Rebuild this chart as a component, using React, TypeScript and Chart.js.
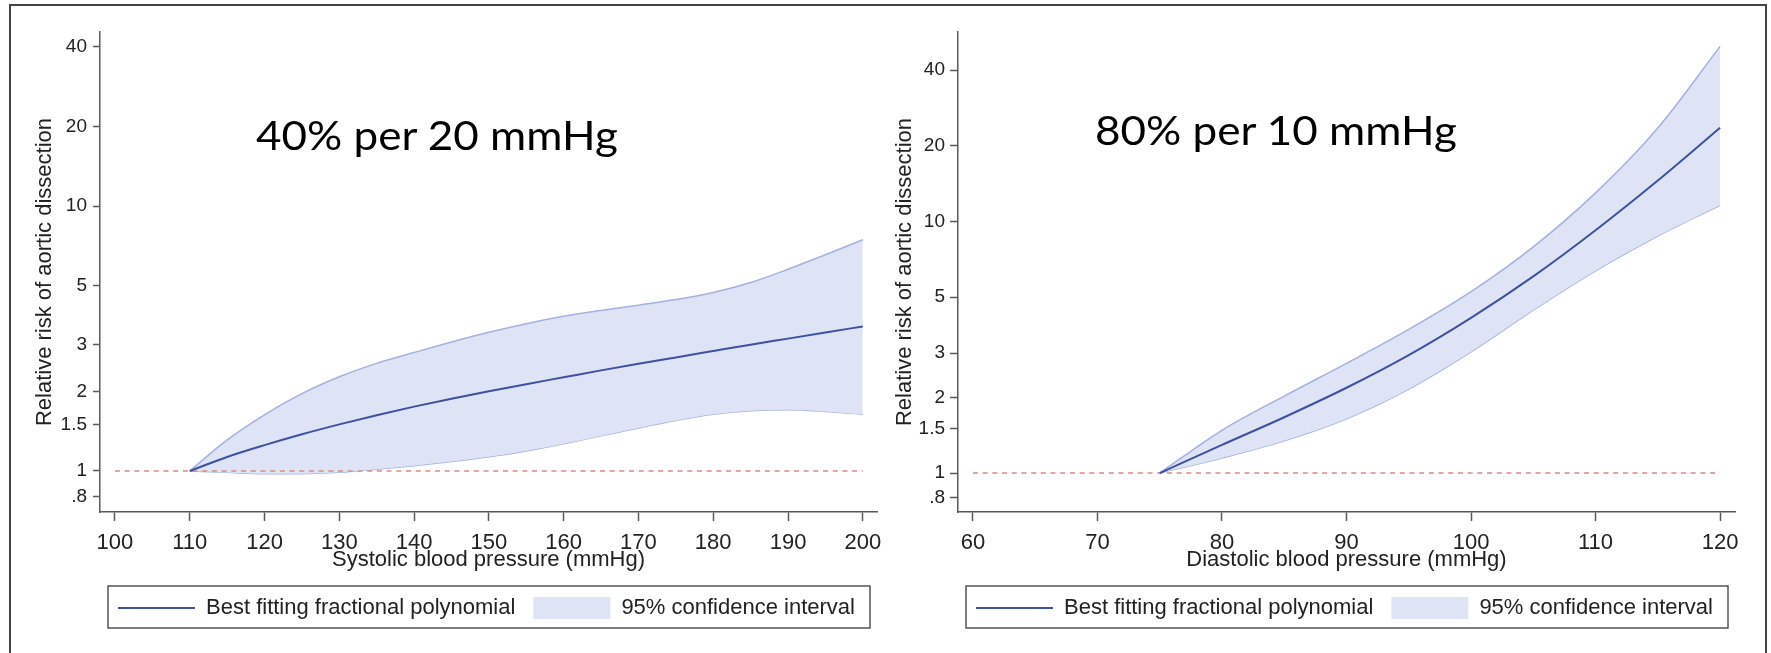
import React, { useEffect, useRef } from 'react';
import { Chart, registerables } from 'chart.js';

Chart.register(...registerables);

// ---------- Data ----------
const sbpX = [110, 115, 120, 125, 130, 135, 140, 145, 150, 155, 160, 165, 170, 175, 180, 185, 190, 195, 200];
const sbpFit = [1.0, 1.13, 1.252, 1.376, 1.5, 1.625, 1.75, 1.875, 2.0, 2.128, 2.259, 2.399, 2.541, 2.685, 2.838, 3.0, 3.162, 3.334, 3.516];
const sbpUpper = [1.0, 1.31, 1.63, 1.96, 2.27, 2.55, 2.8, 3.07, 3.34, 3.6, 3.84, 4.04, 4.23, 4.44, 4.72, 5.15, 5.78, 6.56, 7.47];
const sbpLower = [1.0, 0.988, 0.977, 0.977, 0.989, 1.015, 1.047, 1.085, 1.131, 1.19, 1.267, 1.357, 1.454, 1.551, 1.639, 1.689, 1.705, 1.678, 1.636];

const dbpX = [75, 80, 85, 90, 95, 100, 105, 110, 115, 120];
const dbpFit = [1.0, 1.294, 1.667, 2.183, 2.944, 4.14, 6.05, 9.23, 14.55, 23.6];
const dbpUpper = [1.0, 1.479, 2.023, 2.729, 3.724, 5.26, 7.93, 13.0, 23.55, 49.7];
const dbpLower = [1.0, 1.148, 1.343, 1.644, 2.158, 3.034, 4.446, 6.368, 8.75, 11.6];

const sbpTicks = [100, 110, 120, 130, 140, 150, 160, 170, 180, 190, 200];
const dbpTicks = [60, 70, 80, 90, 100, 110, 120];
const yTicks = [0.8, 1, 1.5, 2, 3, 5, 10, 20, 40];
const referenceRR = 1;

const legendLabels = ['Best fitting fractional polynomial', '95% confidence interval'];
const yTitle = 'Relative risk of aortic dissection';
const sbpTitle = 'Systolic blood pressure (mmHg)';
const dbpTitle = 'Diastolic blood pressure (mmHg)';
const notes = ['40% per 20 mmHg', '80% per 10 mmHg'];

// ---------- Styles ----------
const FIT = 'rgb(62,80,160)';
const BAND = 'rgb(222,228,245)';
const BAND_EDGE = 'rgb(165,177,222)';
const REF = 'rgb(214,140,128)';
const AXIS = '#5a5a5a';
const TEXT = '#222';
const FONT = "'Liberation Sans', Arial, sans-serif";

const legendBox = {
  id: 'legendBox',
  afterDraw(chart: any) {
    const lg = chart.legend;
    if (!lg) return;
    const ctx = chart.ctx;
    ctx.save();
    ctx.strokeStyle = '#555';
    ctx.lineWidth = 1.5;
    ctx.strokeRect(lg.left + 8, lg.top + 7, lg.width - 15, lg.height - 8);
    ctx.restore();
  },
};

type Panel = {
  xs: number[];
  fit: number[];
  lo: number[];
  hi: number[];
  xTicks: number[];
  xTitle: string;
  xMin: number;
  xMax: number;
  yMin: number;
  yMax: number;
  yWidth: number;
  yTitlePad: number;
  yTickLen: number;
  yTickPad: number;
  padRight: number;
};

const pts = (xs: number[], ys: number[]) => xs.map((x, i) => ({ x, y: ys[i] }));

function makeConfig(p: Panel): any {
  const fmt = (v: number) => (v < 1 ? String(v).replace(/^0/, '') : String(v));
  return {
    type: 'line',
    data: {
      datasets: [
        {
          label: legendLabels[1],
          data: pts(p.xs, p.hi),
          borderColor: BAND_EDGE,
          borderWidth: 1.5,
          backgroundColor: BAND,
          fill: '+1',
          pointRadius: 0,
          cubicInterpolationMode: 'monotone',
          order: 3,
        },
        {
          label: '',
          data: pts(p.xs, p.lo),
          borderColor: BAND_EDGE,
          borderWidth: 1.5,
          fill: false,
          pointRadius: 0,
          cubicInterpolationMode: 'monotone',
          order: 3,
        },
        {
          label: 'ref',
          data: [
            { x: p.xTicks[0], y: referenceRR },
            { x: p.xTicks[p.xTicks.length - 1], y: referenceRR },
          ],
          borderColor: REF,
          borderWidth: 1.5,
          borderDash: [5, 4.7],
          fill: false,
          pointRadius: 0,
          order: 2,
        },
        {
          label: legendLabels[0],
          data: pts(p.xs, p.fit),
          borderColor: FIT,
          borderWidth: 2,
          fill: false,
          pointRadius: 0,
          cubicInterpolationMode: 'monotone',
          order: 1,
        },
      ],
    },
    options: {
      responsive: false,
      animation: false,
      events: [],
      layout: { padding: { left: 0, right: p.padRight, top: 32, bottom: 24 } },
      plugins: {
        tooltip: { enabled: false },
        legend: {
          display: true,
          position: 'bottom',
          align: 'start',
          fullSize: false,
          labels: {
            usePointStyle: true,
            pointStyleWidth: 77,
            padding: 18,
            color: TEXT,
            font: { family: FONT, size: 22 },
            generateLabels: () => [
              {
                text: legendLabels[0],
                pointStyle: 'line',
                strokeStyle: FIT,
                fillStyle: FIT,
                lineWidth: 2,
                hidden: false,
                datasetIndex: 3,
                fontColor: TEXT,
              },
              {
                text: legendLabels[1],
                pointStyle: 'rect',
                strokeStyle: BAND,
                fillStyle: BAND,
                lineWidth: 0,
                hidden: false,
                datasetIndex: 0,
                fontColor: TEXT,
              },
            ],
          },
        },
      },
      scales: {
        x: {
          type: 'linear',
          min: p.xMin,
          max: p.xMax,
          afterBuildTicks: (s: any) => {
            s.ticks = p.xTicks.map((v) => ({ value: v }));
          },
          afterFit: (s: any) => {
            s.height = 67;
            s.paddingLeft = 0;
            s.paddingRight = 0;
          },
          ticks: {
            autoSkip: false,
            maxRotation: 0,
            padding: 9,
            color: TEXT,
            font: { family: FONT, size: 22 },
            callback: (v: number) => String(v),
          },
          grid: {
            display: true,
            drawOnChartArea: false,
            drawTicks: true,
            tickLength: 9,
            tickColor: AXIS,
            tickWidth: 1.5,
          },
          border: { display: true, color: AXIS, width: 1.5 },
          title: {
            display: true,
            text: p.xTitle,
            color: TEXT,
            font: { family: FONT, size: 22 },
            padding: { top: 0, bottom: 6 },
          },
        },
        y: {
          type: 'logarithmic',
          min: p.yMin,
          max: p.yMax,
          afterBuildTicks: (s: any) => {
            s.ticks = yTicks.map((v) => ({ value: v }));
          },
          afterFit: (s: any) => {
            s.width = p.yWidth;
            s.paddingTop = 0;
            s.paddingBottom = 0;
          },
          ticks: {
            autoSkip: false,
            padding: p.yTickPad,
            color: TEXT,
            font: { family: FONT, size: 19 },
            callback: (v: number) => fmt(v),
          },
          grid: {
            display: true,
            drawOnChartArea: false,
            drawTicks: true,
            tickLength: p.yTickLen,
            tickColor: AXIS,
            tickWidth: 1.5,
          },
          border: { display: true, color: AXIS, width: 1.5 },
          title: {
            display: true,
            text: yTitle,
            color: TEXT,
            font: { family: FONT, size: 22 },
            padding: { top: p.yTitlePad, bottom: 0 },
          },
        },
      },
    },
    plugins: [legendBox],
  };
}

const leftPanel: Panel = {
  xs: sbpX,
  fit: sbpFit,
  lo: sbpLower,
  hi: sbpUpper,
  xTicks: sbpTicks,
  xTitle: sbpTitle,
  xMin: 98,
  xMax: 201.9,
  yMin: 0.713,
  yMax: 45.5,
  yWidth: 100,
  yTitlePad: 31.8,
  yTickLen: 7,
  yTickPad: 6,
  padRight: 9,
};

const rightPanel: Panel = {
  xs: dbpX,
  fit: dbpFit,
  lo: dbpLower,
  hi: dbpUpper,
  xTicks: dbpTicks,
  xTitle: dbpTitle,
  xMin: 58.8,
  xMax: 121.2,
  yMin: 0.706,
  yMax: 56.7,
  yWidth: 72,
  yTitlePad: 5.8,
  yTickLen: 8,
  yTickPad: 5,
  padRight: 36,
};

const noteStyle = (left: number, top: number): React.CSSProperties => ({
  position: 'absolute',
  left,
  top,
  fontFamily: "Lato, 'Open Sans', sans-serif",
  fontSize: 44,
  lineHeight: 1,
  color: '#000',
  whiteSpace: 'nowrap',
  transform: 'scaleY(0.9)',
  transformOrigin: 'left top',
});

export default function App() {
  const leftRef = useRef<HTMLCanvasElement>(null);
  const rightRef = useRef<HTMLCanvasElement>(null);

  useEffect(() => {
    const c1 = new Chart(leftRef.current as HTMLCanvasElement, makeConfig(leftPanel));
    const c2 = new Chart(rightRef.current as HTMLCanvasElement, makeConfig(rightPanel));
    return () => {
      c1.destroy();
      c2.destroy();
    };
  }, []);

  return (
    <div
      style={{
        position: 'absolute',
        left: 0,
        top: 0,
        width: 1771,
        height: 653,
        overflow: 'hidden',
        background: '#fff',
      }}
    >
      <div
        style={{
          position: 'absolute',
          left: 9,
          top: 4,
          width: 1758,
          height: 700,
          border: '2px solid #444',
          boxSizing: 'border-box',
        }}
      />
      <canvas
        ref={leftRef}
        width={886}
        height={653}
        style={{ position: 'absolute', left: 0, top: 0, width: 886, height: 653 }}
      />
      <canvas
        ref={rightRef}
        width={885}
        height={653}
        style={{ position: 'absolute', left: 886, top: 0, width: 885, height: 653 }}
      />
      <div style={noteStyle(256, 115)}>{notes[0]}</div>
      <div style={noteStyle(1095, 110)}>{notes[1]}</div>
    </div>
  );
}
